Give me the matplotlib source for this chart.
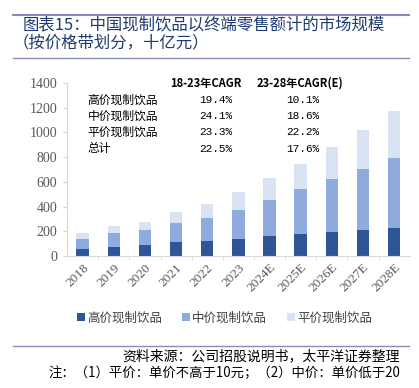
import matplotlib
matplotlib.use('Agg')
import matplotlib.pyplot as plt
from matplotlib.lines import Line2D

years = ['2018', '2019', '2020', '2021', '2022', '2023',
         '2024E', '2025E', '2026E', '2027E', '2028E']
high = [55, 77, 90, 114, 122, 136, 163, 180, 196, 212, 228]
mid = [81, 108, 120, 156, 188, 240, 294, 359, 424, 495, 564]
low = [49, 60, 62, 89, 112, 141, 174, 209, 259, 313, 378]

series_names = ['高价现制饮品', '中价现制饮品', '平价现制饮品']
cagr_rows = ['高价现制饮品', '中价现制饮品', '平价现制饮品', '总计']
cagr_1823 = ['19.4%', '24.1%', '23.3%', '22.5%']
cagr_2328 = ['10.1%', '18.6%', '22.2%', '17.6%']

colors = ['#2F5597', '#8FAADC', '#DAE3F3']
cjk = ['Noto Sans CJK SC', 'DejaVu Sans']
serif = ['Liberation Serif', 'DejaVu Serif']
mono = ['Liberation Mono', 'DejaVu Sans Mono']

plt.rcParams['font.family'] = cjk

fig = plt.figure(figsize=(4.19, 3.88), dpi=100)
ax = fig.add_axes([0.16, 0.34, 0.818, 0.446])

x = range(len(years))
bottom2 = [h + m for h, m in zip(high, mid)]
ax.bar(x, high, width=0.4, color=colors[0], label=series_names[0])
ax.bar(x, mid, width=0.4, bottom=high, color=colors[1], label=series_names[1])
ax.bar(x, low, width=0.4, bottom=bottom2, color=colors[2], label=series_names[2])

ax.set_ylim(0, 1400)
ax.set_xlim(-0.5, len(years) - 0.5)
ax.set_yticks(range(0, 1401, 200))
ax.set_yticklabels([str(v) for v in range(0, 1401, 200)],
                   family=serif, fontsize=10, color='#595959')
ax.set_xticks(list(x))
ax.set_xticklabels(years, rotation=45, ha='right', rotation_mode='anchor',
                   family=serif, fontsize=9.5, color='#595959')
ax.set_xticks([i + 0.5 for i in range(len(years) - 1)], minor=True)
ax.tick_params(axis='x', which='major', length=0, pad=4)
ax.tick_params(axis='x', which='minor', length=3, color='#D9D9D9')
ax.tick_params(axis='y', length=3, color='#D9D9D9', pad=4)
for s in ['top', 'right']:
    ax.spines[s].set_visible(False)
for s in ['left', 'bottom']:
    ax.spines[s].set_color('#D9D9D9')

# CAGR table
ax.text(0.405, 1.0, '18-23年CAGR', transform=ax.transAxes, fontsize=8,
        fontweight='bold', ha='center', va='center')
ax.text(0.68, 1.0, '23-28年CAGR(E)', transform=ax.transAxes, fontsize=8,
        fontweight='bold', ha='center', va='center')
row_y = [0.9, 0.81, 0.715, 0.62]
for yy, name, a, b in zip(row_y, cagr_rows, cagr_1823, cagr_2328):
    ax.text(0.06, yy, name, transform=ax.transAxes, fontsize=8.5,
            ha='left', va='center')
    ax.text(0.385, yy, a, transform=ax.transAxes, fontsize=8,
            family=mono, ha='left', va='center')
    ax.text(0.64, yy, b, transform=ax.transAxes, fontsize=8,
            family=mono, ha='left', va='center')

ax.legend(loc='upper center', bbox_to_anchor=(0.46, -0.255), ncol=3,
          frameon=False, fontsize=9, handlelength=0.6, handleheight=0.6,
          handletextpad=0.2, columnspacing=1.6, labelcolor='#404040')

# title and frame lines
line_color = '#8A8AB8'
fig.add_artist(Line2D([0.03, 0.975], [0.962, 0.962], color=line_color, lw=1.5))
fig.add_artist(Line2D([0.03, 0.975], [0.851, 0.851], color=line_color, lw=1.0))
fig.text(0.055, 0.936, '图表15：中国现制饮品以终端零售额计的市场规模',
         fontsize=11.8, color='#1F3A6E', va='center')
fig.text(0.03, 0.889, '（按价格带划分，十亿元）',
         fontsize=11.8, color='#1F3A6E', va='center')

fig.add_artist(Line2D([0.03, 0.975], [0.107, 0.107], color=line_color, lw=1.0))
fig.text(0.955, 0.081, '资料来源：公司招股说明书，太平洋证券整理',
         fontsize=10, style='italic', ha='right', va='center')
fig.text(0.955, 0.038, '注：（1）平价：单价不高于10元；（2）中价：单价低于20',
         fontsize=9.6, style='italic', ha='right', va='center')
fig.text(0.955, -0.022, '元，但高于10元；（3）高价：单价不低于20元',
         fontsize=9.6, style='italic', ha='right', va='center')

fig.savefig('out.png', dpi=100)
